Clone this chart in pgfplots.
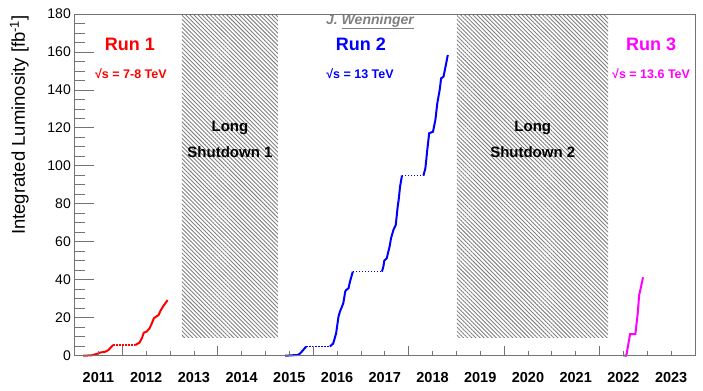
\documentclass[border=0pt]{standalone}
\usepackage{pgfplots}
\pgfplotsset{compat=1.18}
\usepackage{fontspec}
\setmainfont{Liberation Sans}
\usetikzlibrary{patterns.meta}
\definecolor{axgray}{gray}{0.45}
\definecolor{hatchgray}{gray}{0.5}
\definecolor{runred}{RGB}{255,0,0}
\definecolor{runblue}{RGB}{0,0,255}
\definecolor{runmag}{RGB}{255,0,255}
\newcommand{\sqs}{\symbol{"221A}s}
\pgfplotsset{
  lhcframe/.style={
    scale only axis, width=620.4bp, height=341.7bp,
    xmin=2011, xmax=2024, ymin=0, ymax=180,
    axis line style={axgray, line width=0.8bp},
    tick style={axgray, line width=0.8bp},
  }
}
\begin{document}
\begin{tikzpicture}
\begin{axis}[
  lhcframe,
  ytick={0,20,...,180}, minor y tick num=3,
  major tick length=19bp, minor tick length=10bp,
  ytick pos=left,
  xtick=\empty,
  /pgf/number format/assume math mode=true,
  /pgf/number format/1000 sep={},
  yticklabel style={font=\fontsize{14bp}{16bp}\selectfont, inner sep=0pt, xshift=-3.6bp},
  clip=false,
]
% shutdown areas
\addplot[draw=none, pattern={Lines[angle=-45, distance=2.9bp, line width=0.9bp]}, pattern color=hatchgray]
  coordinates {(2013.25,9.5) (2015.26,9.5) (2015.26,179.1) (2013.25,179.1)} -- cycle;
\addplot[draw=none, pattern={Lines[angle=-45, distance=2.9bp, line width=0.9bp]}, pattern color=hatchgray]
  coordinates {(2019.01,9.5) (2022.18,9.5) (2022.18,179.1) (2019.01,179.1)} -- cycle;

% Run 1
\addplot[runred, line width=2bp, mark=none] coordinates {
 (2011.18,0) (2011.36,0.2) (2011.46,0.9) (2011.53,1.6) (2011.64,2.1) (2011.71,3.0) (2011.76,4.4) (2011.81,5.6)};
\addplot[runred, line width=1.5bp, dash pattern=on 1.5bp off 1.5bp, mark=none] coordinates {
 (2011.81,5.6) (2012.27,5.6)};
\addplot[runred, line width=2bp, mark=none] coordinates {
 (2012.27,5.6) (2012.36,6.9) (2012.41,9.2) (2012.45,12.1) (2012.51,12.7) (2012.57,14.4) (2012.62,17.1)
 (2012.66,19.7) (2012.71,20.6) (2012.76,21.4) (2012.80,23.7) (2012.86,26.2) (2012.91,27.9) (2012.95,29.3)};

% Run 2
\addplot[runblue, line width=2bp, mark=none] coordinates {
 (2015.41,0) (2015.69,0.4) (2015.76,2.1) (2015.85,4.8)};
\addplot[runblue, line width=1.5bp, dash pattern=on 1.5bp off 1.5bp, mark=none] coordinates {
 (2015.85,4.8) (2016.35,4.8)};
\addplot[runblue, line width=2bp, mark=none] coordinates {
 (2016.35,4.8) (2016.42,6.5) (2016.48,11.8) (2016.53,20.6) (2016.56,23.2) (2016.63,27.6) (2016.67,33.7)
 (2016.69,34.6) (2016.74,35.5) (2016.77,39.0) (2016.83,44.3)};
\addplot[runblue, line width=1.5bp, dash pattern=on 1.5bp off 1.5bp, mark=none] coordinates {
 (2016.83,44.3) (2017.44,44.3)};
\addplot[runblue, line width=2bp, mark=none] coordinates {
 (2017.44,44.3) (2017.47,46.9) (2017.49,50.1) (2017.54,51.3) (2017.60,57.4) (2017.63,61.8) (2017.68,66.2)
 (2017.73,68.9) (2017.77,78.5) (2017.79,82.0) (2017.82,89.1) (2017.86,94.9)};
\addplot[runblue, line width=1.5bp, dash pattern=on 1.5bp off 1.5bp, mark=none] coordinates {
 (2017.86,94.9) (2018.31,94.9)};
\addplot[runblue, line width=2bp, mark=none] coordinates {
 (2018.31,94.9) (2018.35,98.7) (2018.39,108.4) (2018.43,117.2) (2018.51,118.0) (2018.56,124.2) (2018.60,133.0)
 (2018.65,140.0) (2018.68,146.1) (2018.73,147.0) (2018.78,153.2) (2018.82,158.4)};

% Run 3
\addplot[runmag, line width=2bp, mark=none] coordinates {
 (2022.50,0) (2022.56,0) (2022.64,11.3) (2022.75,11.3) (2022.80,22.3) (2022.83,32.0) (2022.87,36.4) (2022.91,41.3)};

% texts
\node[font=\bfseries\itshape\fontsize{14bp}{16bp}\selectfont, text=gray] at (axis cs:2017.19,176.0) {J. \underline{Wenninger}};
\node[font=\bfseries\fontsize{18bp}{20bp}\selectfont, text=runred] at (axis cs:2012.16,164.2) {Run 1};
\node[font=\bfseries\fontsize{12.5bp}{14bp}\selectfont, text=runred] at (axis cs:2012.18,148.4) {\sqs{} = 7-8 TeV};
\node[font=\bfseries\fontsize{18bp}{20bp}\selectfont, text=runblue] at (axis cs:2017.0,164.2) {Run 2};
\node[font=\bfseries\fontsize{12.5bp}{14bp}\selectfont, text=runblue] at (axis cs:2016.98,148.4) {\sqs{} = 13 TeV};
\node[font=\bfseries\fontsize{18bp}{20bp}\selectfont, text=runmag] at (axis cs:2023.08,164.2) {Run 3};
\node[font=\bfseries\fontsize{12.5bp}{14bp}\selectfont, text=runmag] at (axis cs:2023.08,148.4) {\sqs{} = 13.6 TeV};
\node[font=\bfseries\fontsize{15bp}{17bp}\selectfont] at (axis cs:2014.255,119.9) {Long};
\node[font=\bfseries\fontsize{15bp}{17bp}\selectfont] at (axis cs:2014.255,107.1) {Shutdown 1};
\node[font=\bfseries\fontsize{15bp}{17bp}\selectfont] at (axis cs:2020.6,119.9) {Long};
\node[font=\bfseries\fontsize{15bp}{17bp}\selectfont] at (axis cs:2020.6,107.1) {Shutdown 2};
\node[rotate=90, anchor=base east, inner sep=0pt, font=\fontsize{18.5bp}{20bp}\selectfont]
  at ([xshift=-49.6bp,yshift=-1bp]rel axis cs:0,1) {Integrated Luminosity [fb\textsuperscript{-1}]};
\end{axis}
% x tick marks
\begin{axis}[
  lhcframe,
  hide y axis,
  xtick={2012,2014,2016,2018,2020,2022}, xticklabels={},
  minor xtick={2011.5,2012,...,2023.5},
  major tick length=10bp, minor tick length=5bp,
  xtick pos=bottom,
]
\end{axis}
% x tick labels (mid-year)
\begin{axis}[
  lhcframe,
  hide y axis,
  axis line style={draw=none},
  major tick length=0pt,
  xtick pos=bottom,
  xtick={2011.5,2012.5,2013.5,2014.5,2015.5,2016.5,2017.5,2018.5,2019.5,2020.5,2021.5,2022.5,2023.5},
  xticklabels={2011,2012,2013,2014,2015,2016,2017,2018,2019,2020,2021,2022,2023},
  xticklabel style={font=\bfseries\fontsize{14.5bp}{16bp}\selectfont, inner sep=0pt, anchor=north, yshift=-16bp},
]
\end{axis}
\pgfresetboundingbox
\path ([shift={(-74.6bp,-35.3bp)}]current axis.south west) rectangle ([shift={(8bp,14bp)}]current axis.north east);
\end{tikzpicture}
\end{document}
